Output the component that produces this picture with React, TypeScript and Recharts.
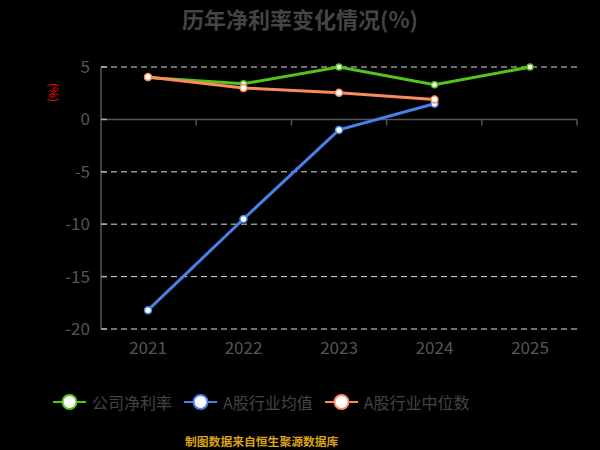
import { LineChart, Line, XAxis, YAxis, CartesianGrid, ReferenceLine } from 'recharts';

const years = ['2021', '2022', '2023', '2024', '2025'];
const companyRate = [4.0, 3.4, 5.0, 3.3, 5.0];
const industryAvg = [-18.2, -9.5, -1.0, 1.5, null];
const industryMedian = [4.05, 3.0, 2.55, 1.9, null];
const yTicks = [5, 0, -5, -10, -15, -20];

const data = years.map((year, i) => ({
    year,
    company: companyRate[i],
    avg: industryAvg[i],
    median: industryMedian[i],
}));

const FONT = '"Noto Sans CJK SC", "Noto Sans", sans-serif';

const series = [
    { key: 'company', name: '公司净利率', color: '#52c41a' },
    { key: 'avg', name: 'A股行业均值', color: '#4a80e8' },
    { key: 'median', name: 'A股行业中位数', color: '#fa8c5c' },
];

// zero line with small tick marks at the category boundaries
const ZeroLine = (props: any) => {
    const { x1, y1, x2 } = props;
    const step = (x2 - x1) / years.length;
    return (
        <g>
            <line x1={x1} y1={y1} x2={x2} y2={y1} stroke="#555" strokeWidth={1.5} />
            {years.map((_, i) => (
                <line
                    key={i}
                    x1={x1 + step * (i + 1)}
                    x2={x1 + step * (i + 1)}
                    y1={y1}
                    y2={y1 + 6}
                    stroke="#555"
                    strokeWidth={1.5}
                />
            ))}
        </g>
    );
};

const App = () => {
    return (
        <div
            style={{
                position: 'absolute',
                left: 0,
                top: 0,
                width: 600,
                height: 450,
                background: '#000',
                fontFamily: FONT,
            }}>
            <div
                style={{
                    position: 'absolute',
                    top: 2,
                    width: 600,
                    textAlign: 'center',
                    fontSize: 22,
                    fontWeight: 'bold',
                    color: '#444',
                }}>
                历年净利率变化情况(%)
            </div>
            <div
                style={{
                    position: 'absolute',
                    left: 45,
                    top: 84,
                    fontSize: 12,
                    color: '#ff0000',
                    transform: 'rotate(90deg)',
                    transformOrigin: 'center',
                }}>
                (%)
            </div>
            <LineChart
                width={600}
                height={450}
                data={data}
                margin={{ top: 67, right: 23, bottom: 0, left: 0 }}>
                <CartesianGrid
                    horizontal
                    vertical={false}
                    stroke="#ddd"
                    strokeDasharray="6 4"
                    horizontalValues={[5, -5, -10, -15, -20]}
                />
                <ReferenceLine y={0} shape={ZeroLine} />
                <XAxis
                    dataKey="year"
                    padding={{ left: 47, right: 47 }}
                    axisLine={false}
                    tickLine={false}
                    tick={{ fill: '#555', fontSize: 17 }}
                    height={121}
                    dy={5}
                />
                <YAxis
                    domain={[-20, 5]}
                    ticks={yTicks}
                    interval={0}
                    width={101}
                    axisLine={{ stroke: '#555', strokeWidth: 1.5 }}
                    tickLine={{ stroke: '#aaa', strokeWidth: 1.5 }}
                    tickSize={-6}
                    tickMargin={17}
                    tick={{ fill: '#555', fontSize: 17 }}
                />
                {series.map((s) => (
                    <Line
                        key={s.key}
                        type="linear"
                        dataKey={s.key}
                        name={s.name}
                        stroke={s.color}
                        strokeWidth={3}
                        dot={{ r: s.key === 'company' ? 3 : 3.5, fill: '#fff', stroke: s.color, strokeWidth: 1.5 }}
                        isAnimationActive={false}
                        connectNulls={false}
                    />
                ))}
            </LineChart>
            <div
                style={{
                    position: 'absolute',
                    top: 390,
                    left: 53,
                    display: 'flex',
                    gap: 12,
                }}>
                {series.map((s) => (
                    <div key={s.key} style={{ display: 'flex', alignItems: 'center', gap: 6 }}>
                        <svg width={33} height={22}>
                            <line x1={0} y1={11} x2={33} y2={11} stroke={s.color} strokeWidth={2} />
                            <circle cx={16.5} cy={11} r={7} fill="#fff" stroke={s.color} strokeWidth={2} />
                        </svg>
                        <span style={{ color: '#444', fontSize: 16 }}>{s.name}</span>
                    </div>
                ))}
            </div>
            <div
                style={{
                    position: 'absolute',
                    top: 432,
                    left: 185,
                    fontSize: 11.8,
                    fontWeight: 'bold',
                    color: '#d9a21b',
                    whiteSpace: 'nowrap',
                }}>
                制图数据来自恒生聚源数据库
            </div>
        </div>
    );
};

export default App;
